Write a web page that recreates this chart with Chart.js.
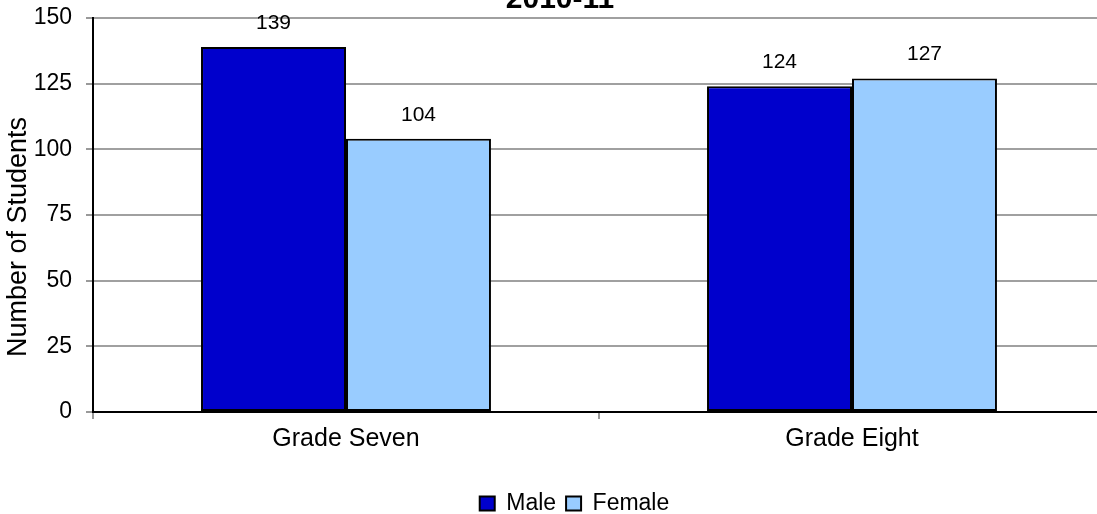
<!DOCTYPE html>
<html>
<head>
<meta charset="utf-8">
<script src="https://cdn.jsdelivr.net/npm/chart.js@4/dist/chart.umd.min.js"></script>
<style>
  html, body { margin: 0; padding: 0; background: #fff; overflow: hidden; }
  #wrap { width: 1097px; height: 514px; overflow: hidden; position: relative; }
  canvas { display: block; }
</style>
</head>
<body>
<div id="wrap"><canvas id="c" width="1110" height="514"></canvas></div>
<script>
// Enrollment by gender, 2010-11
const categories = ['Grade Seven', 'Grade Eight'];
const maleCounts = [139, 124];
const femaleCounts = [104, 127];
const seriesNames = ['Male', 'Female'];
const yTicks = [0, 25, 50, 75, 100, 125, 150];
const titleText = '2010-11';

const FONT = "'Liberation Sans', Arial, sans-serif";

// Partially visible heading line at the very top
const headingPlugin = {
  id: 'heading',
  afterDraw(chart) {
    const ctx = chart.ctx;
    ctx.save();
    ctx.font = 'bold 30px ' + FONT;
    ctx.fillStyle = '#000';
    ctx.textAlign = 'center';
    ctx.textBaseline = 'alphabetic';
    ctx.fillText(titleText, 560, 8);
    ctx.restore();
  }
};

// Value labels above each bar
const valueLabels = {
  id: 'valueLabels',
  afterDatasetsDraw(chart) {
    const ctx = chart.ctx;
    ctx.save();
    ctx.font = '21px ' + FONT;
    ctx.fillStyle = '#000';
    ctx.textAlign = 'center';
    ctx.textBaseline = 'middle';
    chart.data.datasets.forEach((ds, di) => {
      chart.getDatasetMeta(di).data.forEach((bar, i) => {
        ctx.fillText(String(ds.data[i]), bar.x, bar.y - 24);
      });
    });
    ctx.restore();
  }
};

// Nudge the legend block and the y-axis title into place
const layoutTweaks = {
  id: 'layoutTweaks',
  afterLayout(chart) {
    const lg = chart.legend;
    if (lg) {
      lg.left += 22; lg.right += 22;
      lg.top += 11; lg.bottom += 11;
    }
    const ys = chart.scales.y;
    if (ys && !ys._titleShifted) {
      const drawTitle = ys.drawTitle;
      ys.drawTitle = function () {
        const t = this.top, b = this.bottom;
        this.top = t + 22; this.bottom = b + 22;
        drawTitle.call(this);
        this.top = t; this.bottom = b;
      };
      ys._titleShifted = true;
    }
  }
};

new Chart(document.getElementById('c'), {
  type: 'bar',
  data: {
    labels: categories,
    datasets: [
      { label: seriesNames[0], data: maleCounts, backgroundColor: '#0000CC', borderColor: '#000', borderWidth: 2, borderSkipped: false },
      { label: seriesNames[1], data: femaleCounts, backgroundColor: '#99CCFF', borderColor: '#000', borderWidth: 2, borderSkipped: false }
    ]
  },
  options: {
    responsive: false,
    animation: false,
    devicePixelRatio: 1,
    layout: { padding: { top: 18, right: 5, left: 0, bottom: 0 } },
    datasets: { bar: { categoryPercentage: 0.573, barPercentage: 1.0 } },
    plugins: {
      title: { display: false },
      tooltip: { enabled: false },
      legend: {
        position: 'bottom',
        labels: {
          font: { family: FONT, size: 23 },
          color: '#000',
          boxWidth: 15,
          boxHeight: 14,
          padding: 10
        }
      }
    },
    scales: {
      x: {
        grid: { offset: true, drawOnChartArea: false, drawTicks: true, tickLength: 7, tickColor: '#999', lineWidth: 2 },
        border: { display: true, color: '#000', width: 2 },
        ticks: { font: { family: FONT, size: 25 }, color: '#000', padding: 5 },
        afterFit(scale) { scale.height = 59; scale.paddingLeft = 0; scale.paddingRight = 0; }
      },
      y: {
        min: 0,
        max: 150,
        afterBuildTicks(scale) { scale.ticks = yTicks.map(v => ({ value: v })); },
        grid: { color: '#a0a0a0', lineWidth: 2, tickLength: 7, tickColor: '#999' },
        border: { display: true, color: '#000', width: 2 },
        ticks: { font: { family: FONT, size: 23 }, color: '#000', padding: 14 },
        title: { display: true, text: 'Number of Students', font: { family: FONT, size: 27 }, color: '#000', padding: { top: 2, bottom: 0 } },
        afterFit(scale) { scale.width = 93; scale.paddingTop = 0; scale.paddingBottom = 0; }
      }
    }
  },
  plugins: [headingPlugin, valueLabels, layoutTweaks]
});
</script>
</body>
</html>
